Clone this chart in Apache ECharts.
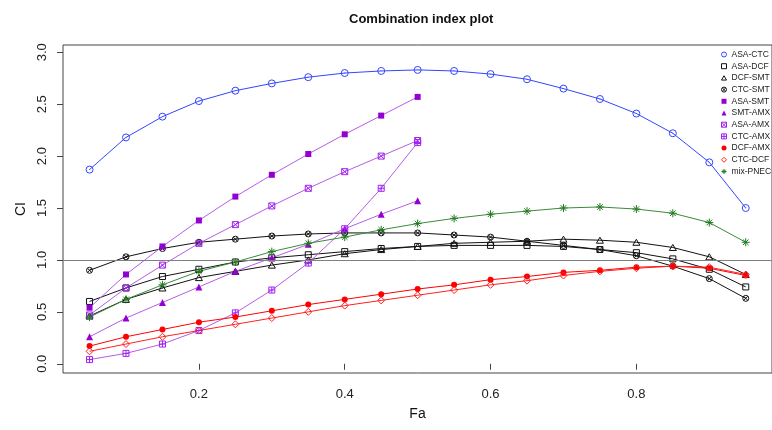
<!DOCTYPE html>
<html>
<head>
<meta charset="utf-8">
<script src="https://cdn.jsdelivr.net/npm/echarts@6/dist/echarts.min.js"></script>
<style>
html, body { margin: 0; padding: 0; background: #fff; }
#chart { width: 772px; height: 430px; }
</style>
</head>
<body>
<div id="chart"></div>
<script>
// Fa values (x) and CI values (y) per combination
var fa = [0.05, 0.10, 0.15, 0.20, 0.25, 0.30, 0.35, 0.40, 0.45, 0.50,
          0.55, 0.60, 0.65, 0.70, 0.75, 0.80, 0.85, 0.90, 0.95];

var asaCtc  = [1.87, 2.18, 2.38, 2.53, 2.63, 2.70, 2.76, 2.80, 2.82, 2.83, 2.82, 2.79, 2.74, 2.65, 2.55, 2.41, 2.22, 1.94, 1.50];
var asaDcf  = [0.60, 0.73, 0.84, 0.91, 0.98, 1.02, 1.05, 1.08, 1.11, 1.13, 1.14, 1.14, 1.14, 1.13, 1.10, 1.07, 1.01, 0.91, 0.74];
var dcfSmt  = [0.46, 0.62, 0.73, 0.83, 0.89, 0.95, 1.00, 1.06, 1.10, 1.13, 1.16, 1.17, 1.18, 1.20, 1.19, 1.17, 1.12, 1.03, 0.86];
var ctcSmt  = [0.90, 1.03, 1.11, 1.17, 1.20, 1.23, 1.25, 1.26, 1.26, 1.26, 1.24, 1.22, 1.18, 1.14, 1.10, 1.04, 0.94, 0.82, 0.63];
var asaSmt  = [0.54, 0.86, 1.13, 1.38, 1.61, 1.82, 2.02, 2.21, 2.39, 2.57];
var smtAmx  = [0.26, 0.44, 0.59, 0.74, 0.89, 1.02, 1.15, 1.30, 1.44, 1.57];
var asaAmx  = [0.47, 0.73, 0.95, 1.16, 1.34, 1.52, 1.69, 1.85, 2.00, 2.15];
var ctcAmx  = [0.04, 0.10, 0.19, 0.32, 0.49, 0.71, 0.97, 1.30, 1.69, 2.13];
var dcfAmx  = [0.17, 0.26, 0.33, 0.40, 0.45, 0.51, 0.57, 0.62, 0.67, 0.72, 0.76, 0.81, 0.84, 0.88, 0.90, 0.93, 0.94, 0.92, 0.85];
var ctcDcf  = [0.12, 0.19, 0.26, 0.32, 0.38, 0.44, 0.50, 0.56, 0.61, 0.66, 0.71, 0.76, 0.80, 0.85, 0.89, 0.92, 0.94, 0.93, 0.86];
var mixPnec = [0.45, 0.62, 0.76, 0.89, 0.98, 1.08, 1.16, 1.22, 1.29, 1.35, 1.40, 1.44, 1.47, 1.50, 1.51, 1.49, 1.45, 1.36, 1.17];

var xTicks = [0.2, 0.4, 0.6, 0.8];
var yTicks = [0.0, 0.5, 1.0, 1.5, 2.0, 2.5, 3.0];

// R-like plotting symbols
var sym = {
	circle:     'path://M0,10 A10,10 0 1,1 20,10 A10,10 0 1,1 0,10 Z M10,9 L10,11',
	square:     'path://M0,0 L20,0 L20,20 L0,20 Z',
	triangle:   'path://M10,0 L20,17.3 L0,17.3 Z',
	circleX:    'path://M0,10 A10,10 0 1,1 20,10 A10,10 0 1,1 0,10 Z M2.93,2.93 L17.07,17.07 M17.07,2.93 L2.93,17.07',
	squareX:    'path://M0,0 L20,0 L20,20 L0,20 Z M0,0 L20,20 M20,0 L0,20',
	squarePlus: 'path://M0,0 L20,0 L20,20 L0,20 Z M10,0 L10,20 M0,10 L20,10',
	diamond:    'path://M10,0 L20,10 L10,20 L0,10 Z',
	asterisk:   'path://M10,0 L10,20 M0,10 L20,10 M3,3 L17,17 M17,3 L3,17'
};

var defs = [
	{ name: 'ASA-CTC',  vals: asaCtc,  symbol: sym.circle,     size: 7, color: '#3344ff', fill: false },
	{ name: 'ASA-DCF',  vals: asaDcf,  symbol: sym.square,     size: 6, color: '#111111', fill: false },
	{ name: 'DCF-SMT',  vals: dcfSmt,  symbol: sym.triangle,   size: 7, color: '#111111', fill: false },
	{ name: 'CTC-SMT',  vals: ctcSmt,  symbol: sym.circleX,    size: 6, color: '#111111', fill: false },
	{ name: 'ASA-SMT',  vals: asaSmt,  symbol: 'rect',         size: 6, color: '#9400d3', fill: true, line: '#b65ce8' },
	{ name: 'SMT-AMX',  vals: smtAmx,  symbol: 'triangle',     size: 7, color: '#9400d3', fill: true, line: '#b65ce8' },
	{ name: 'ASA-AMX',  vals: asaAmx,  symbol: sym.squareX,    size: 6, color: '#a020f0', fill: false, line: '#b65ce8' },
	{ name: 'CTC-AMX',  vals: ctcAmx,  symbol: sym.squarePlus, size: 6, color: '#a020f0', fill: false, line: '#b65ce8' },
	{ name: 'DCF-AMX',  vals: dcfAmx,  symbol: 'circle',       size: 6, color: '#ff0000', fill: true },
	{ name: 'CTC-DCF',  vals: ctcDcf,  symbol: sym.diamond,    size: 7, color: '#ff2020', fill: false },
	{ name: 'mix-PNEC', vals: mixPnec, symbol: sym.asterisk,   size: 8, color: '#1f7a1f', fill: false, line: '#3a8a3a' }
];

function styleOf(d) {
	return d.fill
		? { color: d.color, borderWidth: 0 }
		: { color: 'rgba(0,0,0,0)', borderColor: d.color, borderWidth: 1 };
}

var series = defs.map(function (d, k) {
	var s = {
		name: d.name,
		type: 'line',
		data: d.vals.map(function (v, i) { return [fa[i], v]; }),
		symbol: d.symbol,
		symbolSize: d.size,
		symbolKeepAspect: true,
		showAllSymbol: true,
		itemStyle: styleOf(d),
		lineStyle: { color: d.line || d.color, width: 1 },
		emphasis: { disabled: true },
		z: 3
	};
	if (k === 0) {
		s.markLine = {
			silent: true,
			symbol: ['none', 'none'],
			label: { show: false },
			lineStyle: { color: '#808080', type: 'solid', width: 1 },
			data: [{ yAxis: 1 }]
		};
	}
	return s;
});

var legendData = defs.map(function (d) {
	return { name: d.name, icon: d.symbol, itemStyle: styleOf(d) };
});

var font = 'Liberation Sans, Arial, sans-serif';
var chart = echarts.init(document.getElementById('chart'));
chart.setOption({
	animation: false,
	title: {
		text: 'Combination index plot',
		left: 344,
		top: 8,
		textStyle: { fontFamily: font, fontSize: 13, fontWeight: 'bold', color: '#111' }
	},
	legend: {
		orient: 'vertical',
		left: 721,
		top: 50,
		itemWidth: 5,
		itemHeight: 5,
		itemGap: 2.7,
		padding: 0,
		data: legendData,
		textStyle: { fontFamily: font, fontSize: 8.5, color: '#222', padding: [0, 0, 0, 0] }
	},
	grid: {
		left: 63,
		right: -6,
		top: 45,
		bottom: 57,
		show: true,
		borderColor: '#444',
		borderWidth: 1,
		backgroundColor: 'transparent'
	},
	xAxis: {
		type: 'value',
		min: 0.0136,
		max: 0.986,
		name: 'Fa',
		nameLocation: 'middle',
		nameGap: 34,
		nameTextStyle: { fontFamily: font, fontSize: 14, color: '#111' },
		splitLine: { show: false },
		axisLine: { show: false },
		axisTick: { show: true, inside: false, length: 6, customValues: xTicks, lineStyle: { color: '#444' } },
		axisLabel: {
			customValues: xTicks, margin: 15,
			fontFamily: font, fontSize: 13, color: '#222',
			formatter: function (v) { return v.toFixed(1); }
		}
	},
	yAxis: {
		type: 'value',
		min: -0.089,
		max: 3.07,
		name: 'CI',
		nameLocation: 'middle',
		nameRotate: 90,
		nameGap: 33,
		nameTextStyle: { fontFamily: font, fontSize: 14, color: '#111' },
		splitLine: { show: false },
		axisLine: { show: false },
		axisTick: { show: true, inside: false, length: 6, customValues: yTicks, lineStyle: { color: '#444' } },
		axisLabel: {
			customValues: yTicks, rotate: 90, margin: 14,
			fontFamily: font, fontSize: 13, color: '#222',
			formatter: function (v) { return v.toFixed(1); }
		}
	},
	series: series
});
</script>
</body>
</html>
